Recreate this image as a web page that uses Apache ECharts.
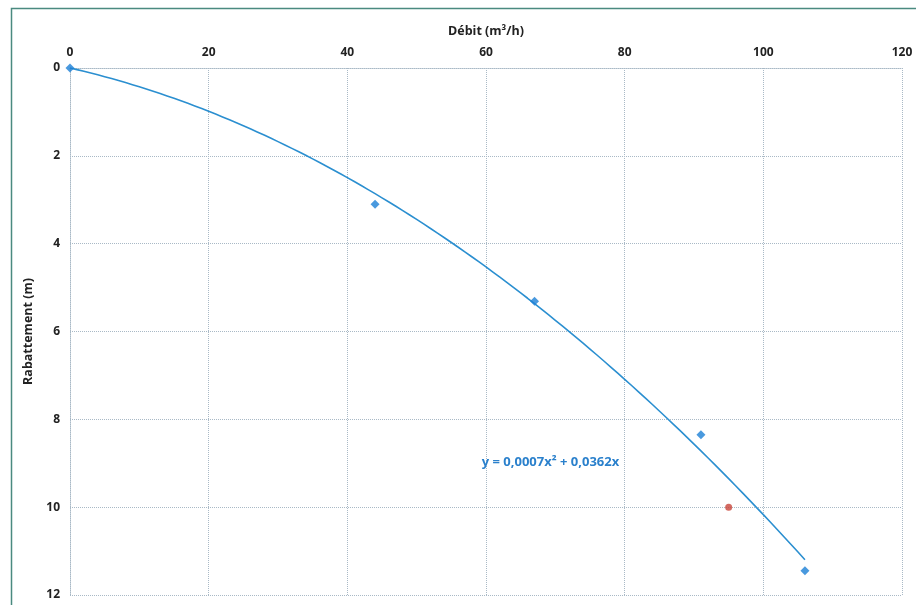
<!DOCTYPE html>
<html>
<head>
<meta charset="utf-8">
<script src="https://cdn.jsdelivr.net/npm/echarts@6/dist/echarts.min.js"></script>
<style>
  html, body { margin: 0; padding: 0; background: #ffffff; }
  #chart { width: 916px; height: 605px; }
</style>
</head>
<body>
<div id="chart"></div>
<script>
// Pumping test: flow rate vs drawdown
const debit = [0, 44, 67, 91, 106];            // m3/h
const rabattement = [0, 3.1, 5.31, 8.35, 11.45]; // m
const pointIsole = [[95, 10]];                 // separate measurement
const xTicks = [0, 20, 40, 60, 80, 100, 120];
const yTicks = [0, 2, 4, 6, 8, 10, 12];

// Least-squares fit y = a x^2 + b x (intercept fixed at 0)
function fitQuadOrigin(xs, ys) {
  let s2 = 0, s3 = 0, s4 = 0, sxy = 0, sx2y = 0;
  for (let i = 0; i < xs.length; i++) {
    const x = xs[i], y = ys[i];
    s2 += x * x; s3 += x * x * x; s4 += x * x * x * x;
    sxy += x * y; sx2y += x * x * y;
  }
  const det = s4 * s2 - s3 * s3;
  return { a: (s2 * sx2y - s3 * sxy) / det, b: (s4 * sxy - s3 * sx2y) / det };
}
const fit = fitQuadOrigin(debit, rabattement);
const xMaxData = Math.max.apply(null, debit);
const courbe = [];
for (let x = 0; x <= xMaxData; x += 1) courbe.push([x, fit.a * x * x + fit.b * x]);
const fmt = v => v.toFixed(4).replace('.', ',');
const equation = 'y = ' + fmt(fit.a) + 'x\u00B2 + ' + fmt(fit.b) + 'x';

const gridColor = '#a9b9c6';
const font = '"Open Sans", "Liberation Sans", sans-serif';

const chart = echarts.init(document.getElementById('chart'), null, { renderer: 'canvas' });
chart.setOption({
  backgroundColor: '#ffffff',
  animation: false,
  grid: { left: 70, right: 14, top: 68, bottom: 10, containLabel: false },
  xAxis: {
    type: 'value', position: 'top', min: xTicks[0], max: xTicks[xTicks.length - 1], interval: 20,
    name: 'Débit (m\u00B3/h)', nameLocation: 'middle', nameGap: 30,
    nameTextStyle: { fontFamily: font, fontWeight: 'bold', fontSize: 12.5, color: '#222' },
    axisLine: { show: true, lineStyle: { color: gridColor, type: 'dotted', width: 1 } },
    axisTick: { show: false },
    axisLabel: { fontFamily: font, fontWeight: 'bold', fontSize: 12, color: '#222', margin: 9 },
    splitLine: { show: true, lineStyle: { color: gridColor, type: 'dotted', width: 1 } }
  },
  yAxis: {
    type: 'value', inverse: true, min: yTicks[0], max: yTicks[yTicks.length - 1], interval: 2,
    name: 'Rabattement (m)', nameLocation: 'middle', nameGap: 35, nameRotate: 90,
    nameTextStyle: { fontFamily: font, fontWeight: 'bold', fontSize: 12.5, color: '#222' },
    axisLine: { show: true, lineStyle: { color: gridColor, type: 'dotted', width: 1 } },
    axisTick: { show: false },
    axisLabel: { fontFamily: font, fontWeight: 'bold', fontSize: 12, color: '#222', margin: 10 },
    splitLine: { show: true, lineStyle: { color: gridColor, type: 'dotted', width: 1 } }
  },
  series: [
    {
      name: 'Tendance', type: 'line', data: courbe, showSymbol: false, smooth: false,
      lineStyle: { color: '#2b8fd0', width: 1.6 }, z: 2
    },
    {
      name: 'Mesures', type: 'scatter', symbol: 'diamond', symbolSize: 9,
      data: debit.map((x, i) => [x, rabattement[i]]),
      itemStyle: { color: '#1c7fd6' }, z: 3
    },
    {
      name: 'Point', type: 'scatter', symbol: 'circle', symbolSize: 7,
      data: pointIsole, itemStyle: { color: '#c8453a' }, z: 3
    }
  ]
});

// Frame and trendline equation
const eqPos = chart.convertToPixel({ gridIndex: 0 }, [69.3, 8.97]);
chart.setOption({
  graphic: [
    {
      type: 'rect', left: 9, top: 6, silent: true,
      shape: { width: 920, height: 620 },
      style: { fill: 'none', stroke: '#4a8a80', lineWidth: 1.5 }
    },
    {
      type: 'text', x: eqPos[0], y: eqPos[1], silent: true,
      style: {
        text: equation, fill: '#2a80cc', font: 'bold 13px ' + font,
        align: 'center', verticalAlign: 'middle'
      }
    }
  ]
});
</script>
</body>
</html>
